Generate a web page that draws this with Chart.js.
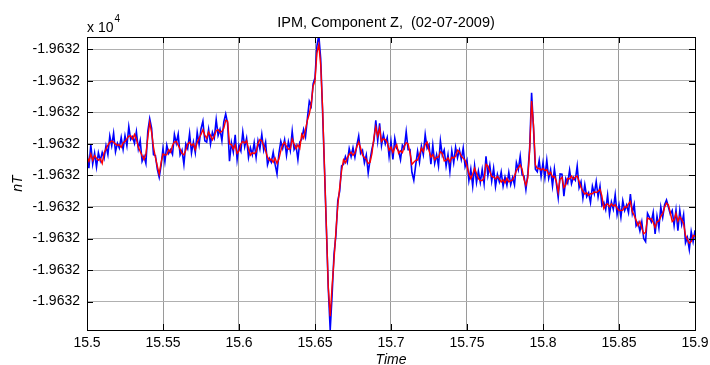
<!DOCTYPE html>
<html>
<head>
<meta charset="utf-8">
<script src="https://cdn.jsdelivr.net/npm/chart.js@4/dist/chart.umd.min.js"></script>
<style>
  html, body { margin: 0; padding: 0; background: #fff; }
  #wrap { width: 710px; height: 365px; }
</style>
</head>
<body>
<div id="wrap"><canvas id="plot" width="710" height="365"></canvas></div>
<script>
// IPM observatory, vertical component Z, 02-07-2009
const chartTitle = 'IPM, Component Z,  (02-07-2009)';
const sampleStart = 15.5;     // hours (UT)
const sampleStep = 0.00125;   // hours between samples
const baseNT = -19632;        // nT, offsets below are relative to this

// raw record (nT offset)
const zRaw = [
  .075, .023, .098, .036, .071, .027, .072, .047, .073, .054,
  .094, .066, .125, .094, .134, .075, .102, .087, .121, .083,
  .126, .094, .155, .114, .123, .102, .139, .084, .111, .045,
  .061, .038, .14, .18, .15, .066, .063, .02, -.006, .032,
  .086, .043, .096, .07, .082, .067, .13, .102, .131, .065,
  .08, .035, .1, .085, .133, .071, .106, .072, .137, .098,
  .148, .172, .11, .106, .146, .099, .137, .119, .177, .127,
  .146, .11, .17, .195, .165, .045, .104, .074, .129, .05,
  .096, .078, .138, .091, .118, .057, .088, .066, .104, .057,
  .11, .084, .13, .08, .106, .034, .054, .042, .074, .035,
  .005, .07, .108, .086, .113, .064, .107, .079, .14, .082,
  .095, .05, .106, .115, .146, .122, .181, .235, .22, .29,
  .31, .41, .445, .37, .2, .02, -.17, -.36, -.49, -.38,
  -.25, -.19, -.08, -.05, .03, .035, .06, .042, .085, .06,
  .088, .058, .095, .125, .07, .08, .04, .065, .008, .05,
  .085, .11, .175, .11, .165, .095, .13, .1, .12, .06,
  .108, .051, .118, .086, .078, .05, .096, .086, .139, .082,
  .082, .01, -.015, .033, .077, .042, .093, .066, .13, .086,
  .098, .036, .096, .038, .066, .03, .11, .064, .081, .03,
  .066, .013, .078, .04, .089, .056, .081, .051, .087, .028,
  .048, -.016, .02, -.034, .031, -.022, .014, -.022, .019, -.026,
  .061, .0, .033, -.018, .023, -.035, .003, -.02, .011, -.034,
  -.005, -.031, .01, -.029, -.006, -.03, .04, .018, .061, .002,
  -.002, -.045, .005, .09, .262, .15, .02, .012, .048, -.003,
  .04, -.007, .048, -.009, .018, -.033, .021, -.024, -.07, .005,
  .004, -.066, -.01, -.024, .017, -.026, -.006, -.015, .03, -.039,
  -.02, -.072, -.029, -.067, -.055, -.086, -.034, -.058, -.019, -.068,
  -.034, -.095, -.085, -.108, -.062, -.123, -.084, -.107, -.061, -.124,
  -.093, -.133, -.08, -.111, -.094, -.118, -.059, -.12, -.092, -.16,
  -.149, -.176, -.147, -.2, -.21, -.12, -.133, -.147, -.117, -.185,
  -.129, -.166, -.1, -.133, -.093, -.078, -.1, -.123, -.111, -.158,
  -.11, -.175, -.111, -.155, -.124, -.214, -.197, -.235, -.178, -.21,
  -.174
];

// filtered record (nT offset)
const zFiltered = [
  .057, .045, .068, .048, .063, .055, .048, .053, .038, .072,
  .084, .096, .105, .109, .106, .099, .096, .097, .089, .103,
  .108, .116, .125, .126, .115, .13, .115, .09, .076, .063,
  .051, .068, .12, .168, .137, .09, .057, .03, .005, .041,
  .068, .065, .066, .082, .074, .095, .106, .108, .096, .083,
  .07, .065, .08, .1, .105, .095, .1, .082, .105, .118,
  .13, .145, .128, .118, .138, .127, .113, .125, .142, .145,
  .136, .14, .15, .175, .172, .1, .098, .084, .097, .07,
  .078, .1, .108, .103, .11, .085, .064, .072, .069, .075,
  .1, .114, .11, .095, .078, .058, .048, .052, .042, .055,
  .038, .052, .078, .098, .105, .092, .083, .085, .115, .1,
  .085, .097, .086, .13, .118, .146, .175, .195, .225, .283,
  .3, .388, .415, .35, .213, .022, -.165, -.355, -.446, -.35,
  -.268, -.178, -.095, -.038, .015, .05, .04, .056, .067, .074,
  .064, .071, .09, .106, .087, .064, .057, .052, .038, .042,
  .07, .12, .153, .125, .15, .108, .116, .114, .105, .08,
  .09, .073, .088, .098, .07, .078, .072, .092, .104, .1,
  .072, .035, .042, .048, .049, .066, .087, .076, .098, .106,
  .08, .058, .066, .05, .058, .058, .075, .07, .046, .048,
  .056, .043, .058, .055, .061, .08, .075, .061, .055, .048,
  .03, .006, -.01, .004, .023, .006, -.01, -.016, -.016, -.008,
  .035, .03, .013, -.003, -.005, -.011, -.003, -.01, -.021, -.014,
  -.023, -.009, -.02, -.017, -.014, -.002, .016, .024, .033, .02,
  -.012, -.031, -.008, .08, .236, .16, .034, .022, .022, .017,
  .022, .015, .018, .003, .01, -.005, -.003, -.018, -.053, -.012,
  -.006, -.038, -.03, -.009, -.011, -.002, -.012, -.005, -.002, -.019,
  -.038, -.05, -.059, -.055, -.063, -.058, -.058, -.052, -.054, -.05,
  -.044, -.065, -.105, -.093, -.09, -.099, -.09, -.097, -.093, -.104,
  -.111, -.111, -.11, -.099, -.102, -.09, -.083, -.114, -.127, -.142,
  -.159, -.146, -.167, -.185, -.18, -.135, -.139, -.137, -.149, -.165,
  -.147, -.144, -.13, -.121, -.101, -.088, -.093, -.117, -.146, -.14,
  -.12, -.145, -.131, -.14, -.152, -.19, -.203, -.215, -.21, -.19,
  -.192
];

const timeTicks = [15.5, 15.55, 15.6, 15.65, 15.7, 15.75, 15.8, 15.85, 15.9];
const nTTicks = [-19632.4, -19632.3, -19632.2, -19632.1, -19632.0,
                 -19631.9, -19631.8, -19631.7, -19631.6];

const toPoints = arr => arr.map((v, i) => ({ x: sampleStart + i * sampleStep, y: baseNT + v }));

const FONT = '"Liberation Sans", Arial, Helvetica, sans-serif';
Chart.defaults.font.family = FONT;
Chart.defaults.color = '#000';

// MATLAB-like box, inward tick marks and annotation text
const axesDecor = {
  id: 'axesDecor',
  afterDraw(chart) {
    const { ctx, chartArea: a, scales } = chart;
    ctx.save();
    ctx.strokeStyle = '#000';
    ctx.lineWidth = 1;
    const tl = 6;
    ctx.beginPath();
    timeTicks.forEach(t => {
      const x = Math.round(scales.x.getPixelForValue(t)) + 0.5;
      ctx.moveTo(x, a.bottom); ctx.lineTo(x, a.bottom - tl);
      ctx.moveTo(x, a.top); ctx.lineTo(x, a.top + tl);
    });
    nTTicks.forEach(v => {
      const y = Math.round(scales.y.getPixelForValue(v)) + 0.5;
      ctx.moveTo(a.left, y); ctx.lineTo(a.left + tl, y);
      ctx.moveTo(a.right, y); ctx.lineTo(a.right - tl, y);
    });
    ctx.stroke();
    ctx.strokeRect(Math.round(a.left) + 0.5, Math.round(a.top) + 0.5,
                   Math.round(a.right - a.left), Math.round(a.bottom - a.top));

    ctx.fillStyle = '#000';
    ctx.textBaseline = 'alphabetic';
    ctx.textAlign = 'center';
    ctx.font = '14.5px ' + FONT;
    ctx.fillText(chartTitle, 386, 27);

    ctx.textAlign = 'left';
    ctx.font = '14px ' + FONT;
    ctx.fillText('x 10', a.left, 31.5);
    ctx.font = '10px ' + FONT;
    ctx.fillText('4', a.left + 27.5, 22);

    ctx.textAlign = 'center';
    ctx.font = 'italic 14px ' + FONT;
    ctx.fillText('Time', (a.left + a.right) / 2, 364);

    ctx.translate(22, (a.top + a.bottom) / 2);
    ctx.rotate(-Math.PI / 2);
    ctx.textBaseline = 'alphabetic';
    ctx.fillText('nT', 0, 0);
    ctx.restore();
  }
};

new Chart(document.getElementById('plot'), {
  type: 'line',
  data: {
    datasets: [
      {
        label: 'filtered',
        data: toPoints(zFiltered),
        borderColor: '#ff0000',
        borderWidth: 1.4,
        pointRadius: 0,
        tension: 0,
        order: 0
      },
      {
        label: 'raw',
        data: toPoints(zRaw),
        borderColor: '#0000ff',
        borderWidth: 1.6,
        pointRadius: 0,
        tension: 0,
        order: 1
      }
    ]
  },
  options: {
    responsive: false,
    devicePixelRatio: 1,
    animation: false,
    events: [],
    layout: { padding: { left: 0, right: 15, top: 37, bottom: 0 } },
    plugins: { legend: { display: false }, tooltip: { enabled: false }, title: { display: false } },
    scales: {
      x: {
        type: 'linear',
        min: 15.5,
        max: 15.9,
        afterBuildTicks: s => { s.ticks = timeTicks.map(v => ({ value: v })); },
        afterFit: s => { s.height = 35; s.paddingLeft = 0; s.paddingRight = 0; },
        grid: { color: '#9a9a9a', lineWidth: 1, drawTicks: false },
        border: { display: false },
        ticks: {
          padding: 5,
          maxRotation: 0,
          autoSkip: false,
          font: { size: 14 },
          color: '#000',
          callback: v => String(+v.toFixed(2))
        }
      },
      y: {
        type: 'linear',
        min: -19632.49,
        max: -19631.561,
        afterBuildTicks: s => { s.ticks = nTTicks.map(v => ({ value: v })); },
        afterFit: s => { s.width = 87; s.paddingTop = 0; s.paddingBottom = 0; },
        grid: { color: '#b0b0b0', lineWidth: 1, drawTicks: false },
        border: { display: false },
        ticks: {
          padding: 7,
          autoSkip: false,
          font: { size: 14 },
          color: '#000',
          callback: v => (v / 1e4).toFixed(4)
        }
      }
    }
  },
  plugins: [axesDecor]
});
</script>
</body>
</html>
